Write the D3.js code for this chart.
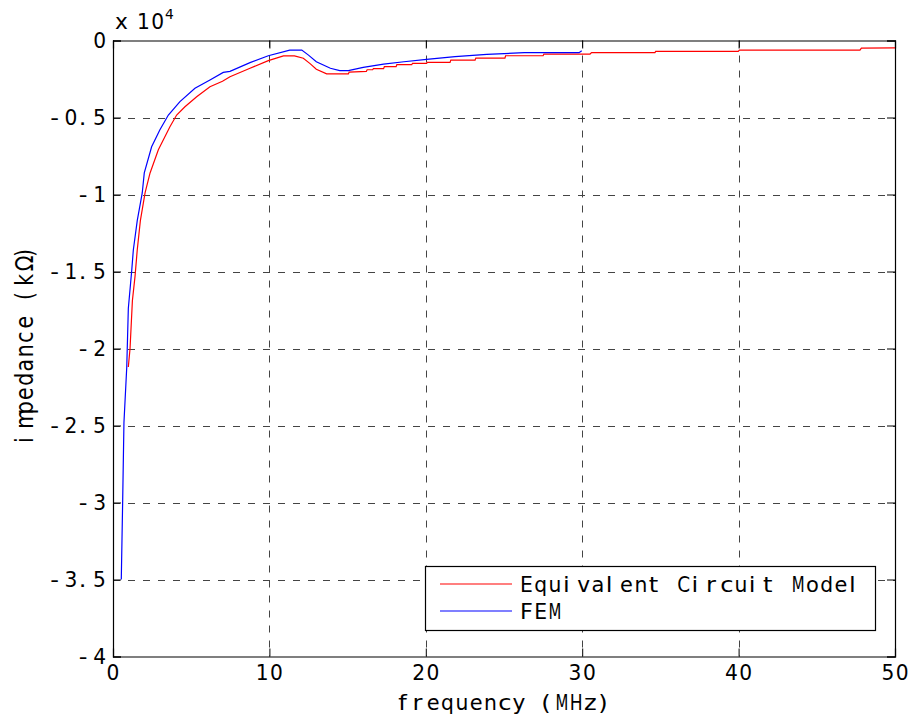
<!DOCTYPE html>
<html>
<head>
<meta charset="utf-8">
<script src="https://cdn.jsdelivr.net/npm/d3@7"></script>
<style>
  body { margin: 0; background: #fff; }
  svg { display: block; }
</style>
</head>
<body>
<div class="chart"></div>
<script>
const WIDTH = 913;
const HEIGHT = 719;
const MARGIN = { top: 40.5, right: 18, bottom: 62.5, left: 113 };
const FONT = 'DejaVu Sans, Verdana, sans-serif';
const FONT_SIZE = 20.5;
const ADV = 14.3; // fixed character advance (matlab-ish spacing)
const SX = 1.18; // the picture is a bit wider than tall, glyphs too

// frequency (MHz) / impedance (x 10^4 kOhm)
const circuitFreq = [0.98, 1.09, 1.24, 1.41, 1.55, 1.75, 2.05, 2.37, 2.9, 3.64, 4.07, 4.6, 5.35, 6.2, 7.0, 7.48,
  8.76, 9.93, 10.9, 11.6, 12.17, 12.6, 13.0, 13.66, 15.05, 15.1, 16.2, 16.25, 16.6, 16.65, 17.3, 17.35, 18.1, 18.15,
  19.1, 19.15, 20.05, 20.1, 21.55, 21.6, 23.15, 23.2, 25.06, 25.1, 27.5, 27.55, 30.5, 30.6, 34.65, 34.7,
  39.98, 40.05, 47.76, 47.85, 50];
const circuitImp = [-2.12, -2.0, -1.69, -1.53, -1.36, -1.17, -0.99, -0.86, -0.71, -0.56, -0.484, -0.43, -0.365, -0.30, -0.265, -0.235,
  -0.18, -0.131, -0.10, -0.10, -0.115, -0.15, -0.187, -0.217, -0.217, -0.205, -0.2, -0.19, -0.19, -0.183, -0.183, -0.17, -0.17, -0.157,
  -0.157, -0.148, -0.148, -0.142, -0.142, -0.127, -0.127, -0.114, -0.114, -0.099, -0.099, -0.088, -0.088, -0.079, -0.079, -0.071,
  -0.071, -0.062, -0.062, -0.049, -0.048];

const femFreq = [0.53, 0.62, 0.70, 0.88, 0.98, 1.2, 1.3, 1.55, 1.87, 2.0, 2.47, 3.0, 3.54, 4.28, 5.24, 6.2, 7.05, 7.48,
  8.76, 9.93, 11.3, 12.07, 12.5, 13.0, 13.9, 14.5, 15.05, 16.0, 17.3, 18.6, 20.05, 21.87, 23.9, 26.3, 29.8, 29.97];
const femImp = [-3.5, -2.98, -2.48, -2.12, -1.74, -1.49, -1.36, -1.17, -0.99, -0.86, -0.69, -0.58, -0.484, -0.397, -0.31, -0.256, -0.207, -0.2,
  -0.144, -0.099, -0.062, -0.062, -0.095, -0.138, -0.18, -0.196, -0.196, -0.174, -0.153, -0.138, -0.122, -0.105, -0.09, -0.079, -0.079, -0.066];

const xTicks = [0, 10, 20, 30, 40, 50];
const yTicks = [0, -0.5, -1, -1.5, -2, -2.5, -3, -3.5, -4];
const yTickLabels = ['0', '-0.5', '-1', '-1.5', '-2', '-2.5', '-3', '-3.5', '-4'];
const seriesNames = ['Equivalent Circuit Model', 'FEM'];
const seriesColors = ['#ff0000', '#0000ff'];

const circuit = circuitFreq.map((f, i) => ({ f, v: circuitImp[i] }));
const fem = femFreq.map((f, i) => ({ f, v: femImp[i] }));

const innerW = WIDTH - MARGIN.left - MARGIN.right;
const innerH = HEIGHT - MARGIN.top - MARGIN.bottom;

const svg = d3.select('.chart').append('svg')
  .attr('width', WIDTH)
  .attr('height', HEIGHT);

const x = d3.scaleLinear().domain([0, 50]).range([MARGIN.left, MARGIN.left + innerW]);
const y = d3.scaleLinear().domain([-4, 0]).range([MARGIN.top + innerH, MARGIN.top]);

// text with fixed per-character advance, then aligned by its bbox
// rotated: stretch goes across the text instead of along it
function monoText(parent, str, px, py, anchor, size, rotated) {
  const fs = size || FONT_SIZE;
  const adv = ADV * fs / FONT_SIZE;
  const sx = rotated ? 1 : SX;
  const sy = rotated ? SX : 1;
  const t = parent.append('text')
    .attr('font-family', FONT)
    .attr('font-size', fs)
    .attr('fill', '#000');
  str.split('').forEach((ch, i) => {
    if (ch === ' ') return;
    const s = t.append('tspan').attr('x', (i * adv) / sx).attr('y', 0).text(ch);
    // squeeze glyphs wider than a cell (M) so they don't run into the next one
    if (!rotated && s.node().getComputedTextLength() * sx > adv * 0.95) {
      s.attr('textLength', (adv * 0.9) / sx).attr('lengthAdjust', 'spacingAndGlyphs');
    }
  });
  const bb = t.node().getBBox();
  const left = bb.x * sx;
  const w = bb.width * sx;
  let dx = px - left;
  if (anchor === 'end') dx = px - (left + w);
  if (anchor === 'middle') dx = px - (left + w / 2);
  t.attr('transform', `translate(${dx},${py}) scale(${sx},${sy})`);
  return t;
}

// grid
const grid = svg.append('g')
  .attr('stroke', '#444')
  .attr('stroke-width', 1)
  .attr('stroke-dasharray', '7,8');
grid.selectAll('.vgrid').data(xTicks.slice(1, -1)).enter().append('line')
  .attr('x1', (d) => Math.round(x(d)) + 0.5)
  .attr('x2', (d) => Math.round(x(d)) + 0.5)
  .attr('y1', y(0))
  .attr('y2', y(-4));
grid.selectAll('.hgrid').data(yTicks.slice(1, -1)).enter().append('line')
  .attr('x1', x(0))
  .attr('x2', x(50))
  .attr('y1', (d) => Math.round(y(d)) + 0.5)
  .attr('y2', (d) => Math.round(y(d)) + 0.5);

// axes (ticks inside the box, on all four sides)
const TICK = 8;
const fmtNone = () => '';
svg.append('g').attr('transform', `translate(0,${y(-4)})`)
  .call(d3.axisBottom(x).tickValues(xTicks).tickSize(-TICK).tickFormat(fmtNone));
svg.append('g').attr('transform', `translate(0,${y(0)})`)
  .call(d3.axisTop(x).tickValues(xTicks).tickSize(-TICK).tickFormat(fmtNone));
svg.append('g').attr('transform', `translate(${x(0)},0)`)
  .call(d3.axisLeft(y).tickValues(yTicks).tickSize(-TICK).tickFormat(fmtNone));
svg.append('g').attr('transform', `translate(${x(50)},0)`)
  .call(d3.axisRight(y).tickValues(yTicks).tickSize(-TICK).tickFormat(fmtNone));
svg.selectAll('.domain').attr('stroke', '#000').attr('stroke-width', 1.2);
svg.selectAll('.tick line').attr('stroke', '#000');

// lines
const line = d3.line().x((d) => x(d.f)).y((d) => y(d.v));
svg.append('path').datum(circuit)
  .attr('d', line)
  .attr('fill', 'none')
  .attr('stroke', seriesColors[0])
  .attr('stroke-width', 1.2);
svg.append('path').datum(fem)
  .attr('d', line)
  .attr('fill', 'none')
  .attr('stroke', seriesColors[1])
  .attr('stroke-width', 1.2);

// tick labels
const labels = svg.append('g');
xTicks.forEach((d) => monoText(labels, String(d), x(d), 680, 'middle'));
yTicks.forEach((d, i) => monoText(labels, yTickLabels[i], 106, y(d) + 7.5, 'end'));

// exponent
monoText(labels, 'x', 115, 29, 'start');
monoText(labels, '10', 137, 29, 'start');
monoText(labels, '4', 165, 19, 'start', 14);

// axis titles
monoText(labels, 'frequency (MHz)', 503, 710, 'middle');
const yl = svg.append('g').attr('transform', 'translate(33,346) rotate(-90)');
monoText(yl, 'impedance (kΩ)', 0, 0, 'middle', FONT_SIZE, true);

// legend
const legend = svg.append('g');
legend.append('rect')
  .attr('x', 425.5).attr('y', 566.5)
  .attr('width', 450).attr('height', 64)
  .attr('fill', '#fff')
  .attr('stroke', '#000')
  .attr('stroke-width', 1.2);
seriesNames.forEach((name, i) => {
  const ly = 584 + i * 27;
  legend.append('line')
    .attr('x1', 440).attr('x2', 512)
    .attr('y1', ly).attr('y2', ly)
    .attr('stroke', seriesColors[i])
    .attr('stroke-width', 1.2);
  monoText(legend, name, 520, ly + 7.5, 'start');
});
</script>
</body>
</html>
